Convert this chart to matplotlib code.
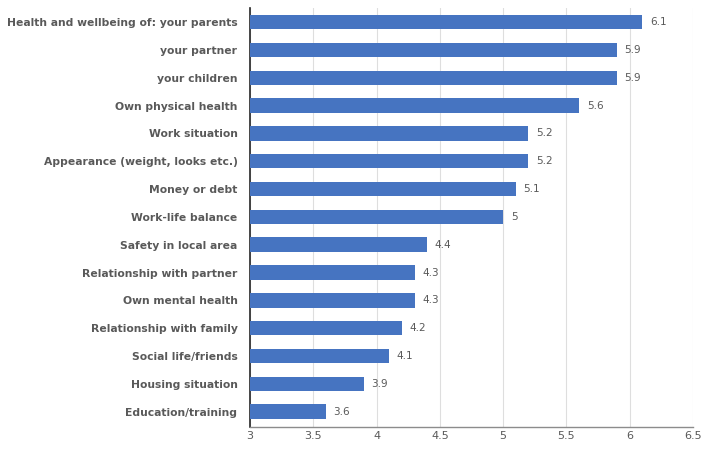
import matplotlib.pyplot as plt

categories = [
    "Health and wellbeing of: your parents",
    "your partner",
    "your children",
    "Own physical health",
    "Work situation",
    "Appearance (weight, looks etc.)",
    "Money or debt",
    "Work-life balance",
    "Safety in local area",
    "Relationship with partner",
    "Own mental health",
    "Relationship with family",
    "Social life/friends",
    "Housing situation",
    "Education/training",
]
values = [6.1, 5.9, 5.9, 5.6, 5.2, 5.2, 5.1, 5, 4.4, 4.3, 4.3, 4.2, 4.1, 3.9, 3.6]
xticks = [3, 3.5, 4, 4.5, 5, 5.5, 6, 6.5]
xticklabels = ["3", "3.5", "4", "4.5", "5", "5.5", "6", "6.5"]

text_col = "#595959"
bar_col = "#4674C1"

fig = plt.figure(figsize=(7.03, 4.54), dpi=100)
ax = fig.add_axes([0.3556, 0.0595, 0.6302, 0.9225])

pos = list(range(len(categories)))
base = 3
ax.barh(pos, [v - base for v in values], left=base, height=0.52,
        color=bar_col, zorder=3)

# value labels just past the end of each bar
for p, v in zip(pos, values):
    ax.text(v + 0.06, p, f"{v:g}", va="center", ha="left",
            fontsize=7.5, color=text_col)

ax.set_xlim(3, 6.5)
ax.set_ylim(14.55, -0.5)
ax.set_xticks(xticks)
ax.set_xticklabels(xticklabels, fontsize=8, color=text_col)
ax.set_yticks(pos)
ax.set_yticklabels(categories, fontsize=7.75, color=text_col, fontweight="bold")
ax.tick_params(axis="both", length=0)
ax.tick_params(axis="y", pad=9)
ax.tick_params(axis="x", pad=3)

ax.grid(axis="x", color="#dedede", linewidth=0.8, zorder=0)
for side in ["top", "right"]:
    ax.spines[side].set_visible(False)
ax.spines["left"].set_color("#262626")
ax.spines["left"].set_linewidth(1.2)
ax.spines["bottom"].set_color("#8c8c8c")
ax.spines["bottom"].set_linewidth(1.0)

fig.savefig("out.png", dpi=100)
